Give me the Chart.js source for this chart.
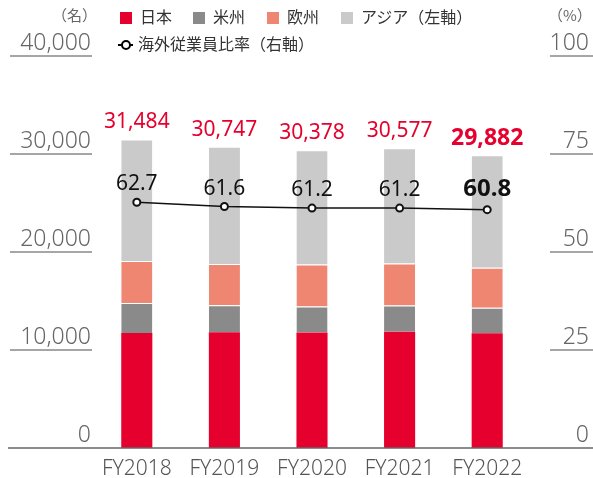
<!DOCTYPE html>
<html lang="ja">
<head>
<meta charset="UTF-8">
<title>海外従業員比率</title>
<script src="https://cdn.jsdelivr.net/npm/chart.js"></script>
<style>
    body {
        margin: 0;
        background: #fff;
        font-family: "Noto Sans CJK JP", "Noto Sans", sans-serif;
    }
    .wrap {
        position: relative;
        width: 593px;
        height: 478px;
    }
    .unit {
        position: absolute;
        top: 4px;
        font-size: 15px;
        color: #666;
        line-height: 22px;
    }
    .legend-item {
        position: absolute;
        font-size: 16px;
        color: #333;
        line-height: 22px;
        white-space: nowrap;
    }
    .legend-item .sq {
        display: inline-block;
        width: 12px;
        height: 12px;
        margin-right: 8px;
        vertical-align: -1px;
    }
    .legend-item .ln {
        display: inline-block;
        position: relative;
        width: 15px;
        height: 12px;
        margin-right: 5px;
        vertical-align: -1px;
    }
    .ln::before {
        content: "";
        position: absolute;
        left: 0;
        right: 0;
        top: 5px;
        height: 2px;
        background: #000;
    }
    .ln::after {
        content: "";
        position: absolute;
        left: 3px;
        top: 1px;
        width: 6px;
        height: 6px;
        border: 2px solid #000;
        border-radius: 50%;
        background: #fff;
    }
</style>
</head>
<body>
<div class="wrap">
    <canvas id="chart" width="593" height="478"></canvas>
    <div class="unit" style="left:52px;">（名）</div>
    <div class="unit" style="left:548px;">（%）</div>
    <div class="legend-item" style="left:120px; top:5px;"><span class="sq" style="background:#e6002d"></span>日本</div>
    <div class="legend-item" style="left:193px; top:5px;"><span class="sq" style="background:#8a8a8a"></span>米州</div>
    <div class="legend-item" style="left:267px; top:5px;"><span class="sq" style="background:#ef8671"></span>欧州</div>
    <div class="legend-item" style="left:341px; top:5px;"><span class="sq" style="background:#c9cac9"></span>アジア（左軸）</div>
    <div class="legend-item" style="left:118px; top:32px;"><span class="ln"></span>海外従業員比率（右軸）</div>
</div>

<script>
// データ
const years = ['FY2018', 'FY2019', 'FY2020', 'FY2021', 'FY2022'];
const japan = [11743, 11807, 11787, 11864, 11714];
const americas = [3060, 2760, 2650, 2680, 2590];
const europe = [4290, 4220, 4290, 4290, 4080];
const asia = [12391, 11960, 11651, 11743, 11498];
const totals = [31484, 30747, 30378, 30577, 29882];
const overseasRatio = [62.7, 61.6, 61.2, 61.2, 60.8];

const leftTicks = [0, 10000, 20000, 30000, 40000];
const leftTickLabels = ['0', '10,000', '20,000', '30,000', '40,000'];
const rightTicks = [0, 25, 50, 75, 100];
const rightTickLabels = ['0', '25', '50', '75', '100'];

const numFont = '"Noto Sans", sans-serif';

// 軸の目盛り（ラベルの下に短い線）
const tickPlugin = {
    id: 'tickPlugin',
    afterDraw(chart) {
        const ctx = chart.ctx;
        const yL = chart.scales.y;
        const yR = chart.scales.y2;
        ctx.save();
        ctx.font = '300 23px ' + numFont;
        ctx.fillStyle = '#666';
        ctx.textAlign = 'right';
        ctx.textBaseline = 'middle';
        leftTicks.forEach((v, i) => {
            const py = yL.getPixelForValue(v);
            ctx.fillText(leftTickLabels[i], 91, py - 13);
            if (v !== 0) {
                ctx.strokeStyle = '#888';
                ctx.lineWidth = 1.5;
                ctx.beginPath();
                ctx.moveTo(10, py);
                ctx.lineTo(92, py);
                ctx.stroke();
            }
        });
        rightTicks.forEach((v, i) => {
            const py = yR.getPixelForValue(v);
            ctx.fillText(rightTickLabels[i], 589, py - 13);
            if (v !== 0) {
                ctx.strokeStyle = '#888';
                ctx.lineWidth = 1.5;
                ctx.beginPath();
                ctx.moveTo(550, py);
                ctx.lineTo(593, py);
                ctx.stroke();
            }
        });
        // 0 のベースライン
        const base = yL.getPixelForValue(0);
        ctx.strokeStyle = '#666';
        ctx.lineWidth = 1.5;
        ctx.beginPath();
        ctx.moveTo(8, base);
        ctx.lineTo(593, base);
        ctx.stroke();
        ctx.restore();
    }
};

// 合計と比率の数値ラベル
const valueLabels = {
    id: 'valueLabels',
    afterDatasetsDraw(chart) {
        const ctx = chart.ctx;
        const topMeta = chart.getDatasetMeta(3);
        const lineMeta = chart.getDatasetMeta(4);
        ctx.save();
        ctx.textAlign = 'center';
        ctx.textBaseline = 'middle';
        topMeta.data.forEach((bar, i) => {
            const last = i === totals.length - 1;
            ctx.font = (last ? 'bold 23px ' : '21px ') + numFont;
            ctx.fillStyle = '#e6002d';
            ctx.fillText(totals[i].toLocaleString('en-US'), bar.x, bar.y - 17);
        });
        lineMeta.data.forEach((pt, i) => {
            const last = i === overseasRatio.length - 1;
            ctx.font = (last ? 'bold 24px ' : '21px ') + numFont;
            ctx.fillStyle = '#111';
            ctx.fillText(overseasRatio[i].toFixed(1), pt.x, pt.y - (last ? 21 : 18));
        });
        ctx.restore();
    }
};

const sep = { top: 1 };

new Chart(document.getElementById('chart'), {
    type: 'bar',
    data: {
        labels: years,
        datasets: [
            { label: '日本', data: japan, backgroundColor: '#e6002d', stack: 's', yAxisID: 'y', order: 2 },
            { label: '米州', data: americas, backgroundColor: '#8a8a8a', borderColor: 'rgba(255,255,255,0.8)', borderWidth: sep, borderSkipped: false, stack: 's', yAxisID: 'y', order: 2 },
            { label: '欧州', data: europe, backgroundColor: '#ef8671', borderColor: 'rgba(255,255,255,0.8)', borderWidth: sep, borderSkipped: false, stack: 's', yAxisID: 'y', order: 2 },
            { label: 'アジア（左軸）', data: asia, backgroundColor: '#c9cac9', borderColor: 'rgba(255,255,255,0.8)', borderWidth: sep, borderSkipped: false, stack: 's', yAxisID: 'y', order: 2 },
            {
                type: 'line',
                label: '海外従業員比率（右軸）',
                data: overseasRatio,
                yAxisID: 'y2',
                borderColor: '#111',
                borderWidth: 1.5,
                pointRadius: 3.5,
                pointBorderWidth: 2,
                pointBackgroundColor: '#fff',
                pointBorderColor: '#111',
                tension: 0,
                order: 1
            }
        ]
    },
    options: {
        responsive: false,
        animation: false,
        layout: {
            padding: { left: 93, right: 62, top: 56, bottom: 0 }
        },
        datasets: {
            bar: { categoryPercentage: 1, barPercentage: 0.355 }
        },
        plugins: {
            legend: { display: false },
            tooltip: { enabled: false }
        },
        scales: {
            x: {
                stacked: true,
                grid: { display: false },
                border: { display: false },
                afterFit(scale) { scale.height = 30; },
                ticks: {
                    color: '#555',
                    padding: 3,
                    font: { family: numFont, size: 21, weight: 300, lineHeight: 1 }
                }
            },
            y: {
                display: false,
                stacked: true,
                min: 0,
                max: 40000
            },
            y2: {
                display: false,
                position: 'right',
                min: 0,
                max: 100
            }
        }
    },
    plugins: [tickPlugin, valueLabels]
});
</script>
</body>
</html>
